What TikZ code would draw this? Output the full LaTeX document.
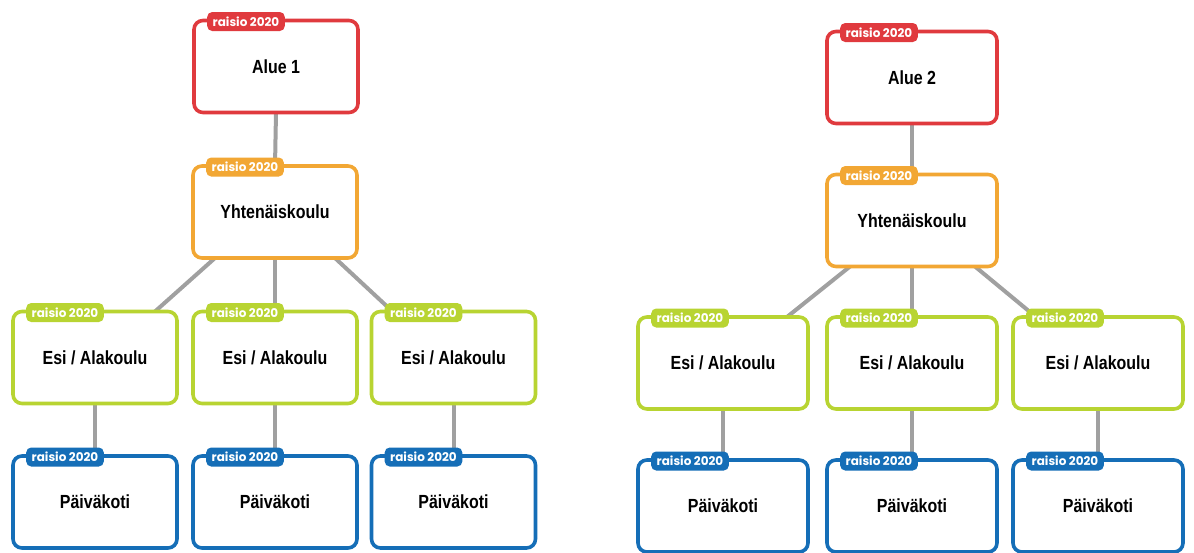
\documentclass[tikz,border=0pt]{standalone}
\usepackage{fontspec}
\usetikzlibrary{backgrounds}
\setmainfont{Liberation Sans}[FakeStretch=0.84]
\newfontfamily\tabfont{Poppins}
\definecolor{cred}{HTML}{E03A3E}
\definecolor{corange}{HTML}{F2A734}
\definecolor{cgreen}{HTML}{B8D432}
\definecolor{cblue}{HTML}{156EB7}
\definecolor{cgray}{HTML}{A0A0A0}
\tikzset{
  orgbox/.style={draw=#1, line width=3.6pt, rounded corners=9pt, fill=white,
    outer sep=0pt, inner sep=0pt, minimum height=92pt,
    font=\fontsize{19}{21}\selectfont\bfseries},
  lbox/.style={orgbox=#1, minimum width=164pt},
  rbox/.style={orgbox=#1, minimum width=170pt},
  yeartab/.style={fill=#1, rounded corners=5pt, text=white, inner xsep=5.5pt,
    inner ysep=0pt, minimum height=19pt, anchor=west,
    font=\tabfont\fontsize{12}{13}\selectfont\bfseries},
  link/.style={draw=cgray, line width=4pt}
}
\newcommand{\yeartabfor}[2]{%
  \node[yeartab=#2] (#1t) at ([xshift=13pt,yshift=-1pt]#1.north west) {raisio 2020};}
\begin{document}
\begin{tikzpicture}[x=1pt, y=-1pt]
\useasboundingbox (0,0) rectangle (1194,552);
% ---------- left tree: nodes ----------
\node[lbox=cred]    (a1)  at (276,66.5) {Alue 1};
\node[lbox=corange] (y1)  at (275,212)  {Yhtenäiskoulu};
\node[lbox=cgreen]  (e11) at (95,357.5)  {Esi / Alakoulu};
\node[lbox=cgreen]  (e12) at (275,357.5) {Esi / Alakoulu};
\node[lbox=cgreen]  (e13) at (453.5,357.5) {Esi / Alakoulu};
\node[lbox=cblue]   (p11) at (95,502)  {Päiväkoti};
\node[lbox=cblue]   (p12) at (275,502) {Päiväkoti};
\node[lbox=cblue]   (p13) at (453.5,502) {Päiväkoti};
% ---------- right tree: nodes ----------
\node[rbox=cred]    (a2)  at (912,77.5)  {Alue 2};
\node[rbox=corange] (y2)  at (912,220.5) {Yhtenäiskoulu};
\node[rbox=cgreen]  (e21) at (723,363)   {Esi / Alakoulu};
\node[rbox=cgreen]  (e22) at (912,363)   {Esi / Alakoulu};
\node[rbox=cgreen]  (e23) at (1098,363)  {Esi / Alakoulu};
\node[rbox=cblue]   (p21) at (723,506)   {Päiväkoti};
\node[rbox=cblue]   (p22) at (912,506)   {Päiväkoti};
\node[rbox=cblue]   (p23) at (1098,506)  {Päiväkoti};
% ---------- tabs ----------
\yeartabfor{a1}{cred}
\yeartabfor{y1}{corange}
\yeartabfor{e11}{cgreen}
\yeartabfor{e12}{cgreen}
\yeartabfor{e13}{cgreen}
\yeartabfor{p11}{cblue}
\yeartabfor{p12}{cblue}
\yeartabfor{p13}{cblue}
\yeartabfor{a2}{cred}
\yeartabfor{y2}{corange}
\yeartabfor{e21}{cgreen}
\yeartabfor{e22}{cgreen}
\yeartabfor{e23}{cgreen}
\yeartabfor{p21}{cblue}
\yeartabfor{p22}{cblue}
\yeartabfor{p23}{cblue}
% ---------- connectors (behind boxes) ----------
\begin{scope}[on background layer]
\draw[link] (a1.south) -- (y1.north);
\draw[link] ([xshift=-60pt]y1.south) -- ([xshift=60pt]e11.north);
\draw[link] (y1.south) -- (e12.north);
\draw[link] ([xshift=60pt]y1.south) -- ([xshift=-61pt]e13.north);
\draw[link] (e11.south) -- (p11.north);
\draw[link] (e12.south) -- (p12.north);
\draw[link] (e13.south) -- (p13.north);
\draw[link] (a2.south) -- (y2.north);
\draw[link] ([xshift=-62pt]y2.south) -- ([xshift=64pt]e21.north);
\draw[link] (y2.south) -- (e22.north);
\draw[link] ([xshift=63pt]y2.south) -- ([xshift=-62pt]e23.north);
\draw[link] (e21.south) -- (p21.north);
\draw[link] (e22.south) -- (p22.north);
\draw[link] (e23.south) -- (p23.north);
\end{scope}
\end{tikzpicture}
\end{document}
